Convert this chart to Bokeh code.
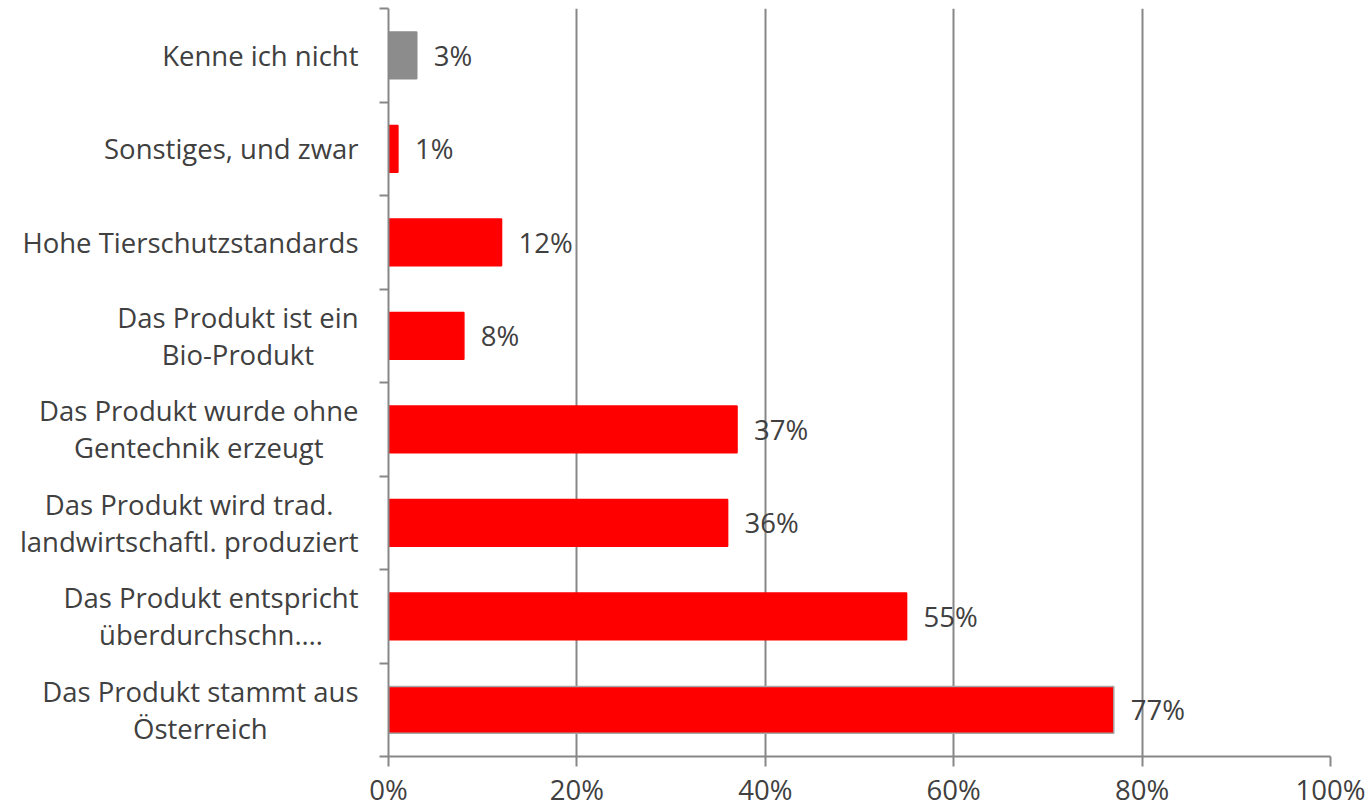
from bokeh.plotting import figure
from bokeh.models import Range1d, FixedTicker, LabelSet, ColumnDataSource
from bokeh.layouts import row
from bokeh.core.properties import value
from bokeh.embed import file_html
from bokeh.resources import INLINE

# ---- data (bottom to top) ----
categories = [
    "Das Produkt stammt aus\nÖsterreich",
    "Das Produkt entspricht\nüberdurchschn.…",
    "Das Produkt wird trad.\nlandwirtschaftl. produziert",
    "Das Produkt wurde ohne\nGentechnik erzeugt",
    "Das Produkt ist ein\nBio-Produkt",
    "Hohe Tierschutzstandards",
    "Sonstiges, und zwar",
    "Kenne ich nicht",
]
values = [77, 55, 36, 37, 8, 12, 1, 3]
bar_colors = ["#FF0000", "#FF0000", "#FF0000", "#FF0000", "#FF0000", "#FF0000", "#FF0000", "#8C8C8C"]
outline_colors = ["#A6A6A6", "#FF0000", "#FF0000", "#FF0000", "#FF0000", "#FF0000", "#FF0000", "#8C8C8C"]
x_ticks = [0, 20, 40, 60, 80, 100]
x_tick_labels = ["0%", "20%", "40%", "60%", "80%", "100%"]

FONT = "Open Sans"
TXT = "#404040"
GRID = "#878787"
FS = "27.5px"

n = len(categories)
ypos = [i + 0.5 for i in range(n)]
y_bounds = list(range(n + 1))
src = ColumnDataSource(dict(
    y=ypos, v=values, color=bar_colors, lc=outline_colors,
    lab=[f"{v}%" for v in values],
))
yr = Range1d(0, n)

# ---- left panel: category labels ----
LW = 360
pl = figure(width=LW, height=811, output_backend="svg", toolbar_location=None,
            x_range=Range1d(0, LW), y_range=yr,
            min_border_left=0, min_border_right=0, min_border_top=8, min_border_bottom=55)
pl.axis.visible = False
pl.grid.visible = False
pl.outline_line_color = None
pl.text(x=[LW - 2] * n, y=ypos, text=categories, anchor="center_right",
        text_align="center", text_baseline="middle",
        text_font=value(FONT), text_font_size=value(FS), text_color=TXT,
        text_line_height=1.0)

# ---- main panel ----
p = figure(width=1370 - LW, height=811, output_backend="svg", toolbar_location=None,
           x_range=Range1d(0, 100), y_range=yr,
           min_border_left=388 - LW, min_border_right=40, min_border_top=8, min_border_bottom=55)
p.outline_line_color = None
p.background_fill_color = "white"
p.border_fill_color = "white"

p.hbar(y="y", right="v", left=0, height=0.5, fill_color="color", line_color="lc",
       line_width=1.5, source=src)

# value labels
p.add_layout(LabelSet(x="v", y="y", text="lab", source=src, x_offset=17,
                      text_align="left", text_baseline="middle",
                      text_font=value(FONT), text_font_size=value(FS), text_color=TXT))

# x axis
p.xaxis.ticker = FixedTicker(ticks=x_ticks)
p.xaxis.major_label_overrides = {t: l for t, l in zip(x_ticks, x_tick_labels)}
p.xaxis.axis_line_color = GRID
p.xaxis.axis_line_width = 2
p.xaxis.major_tick_line_color = GRID
p.xaxis.major_tick_line_width = 2
p.xaxis.major_tick_in = 0
p.xaxis.major_tick_out = 10
p.xaxis.minor_tick_line_color = None
p.xaxis.major_label_standoff = 4
p.xaxis.major_label_text_font = FONT
p.xaxis.major_label_text_font_size = FS
p.xaxis.major_label_text_color = TXT

p.xgrid.ticker = FixedTicker(ticks=x_ticks)
p.xgrid.grid_line_color = GRID
p.xgrid.grid_line_width = 2
p.ygrid.grid_line_color = None

# y axis: tick marks at category boundaries, labels drawn in left panel
p.yaxis.ticker = FixedTicker(ticks=y_bounds)
p.yaxis.major_label_overrides = {b: "" for b in y_bounds}
p.yaxis.axis_line_color = GRID
p.yaxis.axis_line_width = 2
p.yaxis.major_tick_line_color = GRID
p.yaxis.major_tick_line_width = 2
p.yaxis.major_tick_in = 0
p.yaxis.major_tick_out = 9
p.yaxis.minor_tick_line_color = None
p.yaxis.major_label_standoff = 0

layout = row(pl, p)
open("out.html", "w").write(file_html(layout, INLINE))
